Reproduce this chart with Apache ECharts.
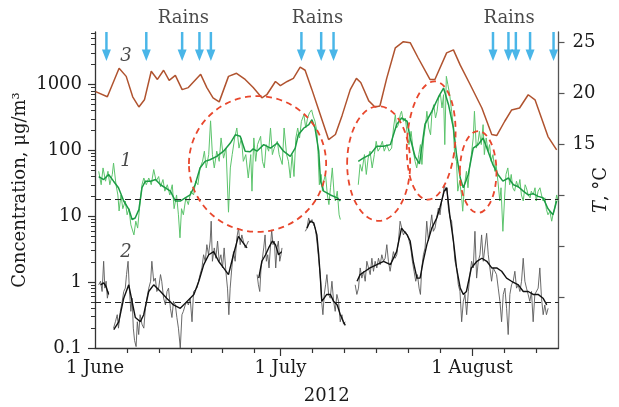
<!DOCTYPE html>
<html>
<head>
<meta charset="utf-8">
<script src="https://cdn.jsdelivr.net/npm/echarts@6/dist/echarts.min.js"></script>
<style>
html,body{margin:0;padding:0;background:#fff}
#chart{width:619px;height:407px}
</style>
</head>
<body>
<div id="chart"></div>
<script>
// x values are days counted from 1 June 2012 (day 0) to 15 August 2012 (day 75).

// Curve 3: air temperature, °C (right axis)
const tempC = [
  [0.1,20.2],[2.0,19.7],[3.9,22.5],[5.05,21.7],[6.1,19.7],[7.1,18.7],[8.0,19.4],[9.1,22.2],
  [10.1,21.4],[11.1,22.3],[12.0,21.3],[13.0,21.8],[14.1,20.4],[15.1,20.6],[17.1,21.9],[18.1,20.6],
  [19.1,19.6],[20.1,19.2],[21.6,21.7],[22.9,22.0],[24.3,21.4],[25.6,20.6],[27.0,19.6],[27.8,19.9],
  [29.2,21.2],[30.0,20.8],[31.1,21.2],[32.1,21.5],[33.2,22.6],[34.0,22.3],[35.1,20.4],[36.2,18.4],
  [37.8,15.5],[38.9,16.0],[40.0,17.9],[41.3,20.4],[42.3,21.5],[43.0,21.1],[44.3,19.3],[45.3,18.7],
  [46.1,18.8],[47.2,21.5],[48.6,24.5],[49.9,25.1],[51.0,25.0],[52.3,23.5],[54.2,21.4],[55.0,21.4],
  [56.9,24.0],[58.0,24.3],[59.1,22.8],[60.7,20.9],[62.6,18.6],[64.2,16.0],[65.0,15.9],[66.3,17.3],
  [67.4,18.4],[68.7,18.6],[70.1,19.9],[71.2,19.4],[73.3,15.8],[74.7,14.5]
];

// Curve 1: concentration, µg/m³ — raw record
const c1Raw = [
  [0.6,48],[1.0,30],[1.3,54],[1.7,34],[2.1,48],[2.4,30],[2.8,43],[3.0,64],[3.4,30],[3.7,21],
  [3.9,12],[4.2,21],[4.5,13],[4.9,17],[5.2,10.5],[5.5,13],[5.8,7.4],[6.3,5.2],[6.6,8.4],[6.9,6.6],
  [7.2,13],[7.6,30],[7.9,38],[8.3,30],[8.7,38],[9.1,30],[9.5,51],[9.9,34],[10.3,40],[10.6,28],
  [11.0,36],[11.3,24],[11.7,30],[12.1,21],[12.5,30],[12.8,13],[13.2,21],[13.5,10.5],[13.75,4.7],[14.0,13],
  [14.3,10.5],[14.7,19],[15.1,15],[15.5,24],[15.95,21],[16.3,34],[16.65,30],[17.0,54],[17.4,68],[17.7,97],
  [18.0,54],[18.4,86],[18.7,280],[19.0,86],[19.3,54],[19.7,97],[20.1,68],[20.4,154],[20.8,76],[21.2,108],
  [21.6,11.5],[21.9,54],[22.2,86],[22.6,154],[22.95,218],[23.3,108],[23.7,154],[24.0,68],[24.4,86],[24.8,38],
  [25.2,86],[25.4,24],[25.7,154],[26.0,68],[26.3,122],[26.8,163],[27.1,68],[27.4,54],[27.7,122],[28.1,97],
  [28.4,218],[28.7,86],[29.0,108],[29.5,137],[29.8,86],[30.3,61],[30.6,218],[31.0,86],[31.3,68],[31.6,38],
  [31.9,86],[32.2,40],[32.5,154],[32.8,218],[33.1,154],[33.4,275],[33.8,347],[34.1,218],[34.4,309],[34.7,370],
  [35.05,410],[35.3,330],[35.6,275],[35.9,194],[36.1,86],[36.3,30],[36.6,43],[36.8,24],[37.0,34],[37.3,43],
  [37.6,21],[37.85,15],[38.1,27],[38.4,54],[38.7,21],[38.9,17],[39.2,24],[39.5,10.5],[39.7,8.9],[41.0,null],
  [42.6,30],[42.9,61],[43.2,48],[43.6,86],[43.9,43],[44.2,76],[44.5,97],[44.85,54],[45.2,86],[45.5,137],
  [45.8,97],[46.1,108],[46.5,137],[46.8,97],[47.2,122],[47.6,97],[48.0,108],[48.3,218],[48.6,347],[48.8,218],
  [49.1,245],[49.4,347],[49.6,391],[49.9,275],[50.2,309],[50.55,172],[50.8,122],[51.15,194],[51.5,97],[51.8,68],
  [52.06,54],[52.4,86],[52.66,122],[52.9,61],[53.2,154],[53.5,245],[53.7,391],[54.0,218],[54.3,172],[54.5,347],
  [54.8,492],[55.1,309],[55.35,391],[55.6,622],[55.9,698],[56.15,439],[56.4,698],[56.6,122],[56.85,1327],[57.1,991],
  [57.4,698],[57.7,391],[57.9,275],[58.2,86],[58.5,68],[58.7,24],[59.0,34],[59.3,21],[59.5,11.9],[59.8,30],
  [60.1,48],[60.35,27],[60.6,54],[60.9,86],[61.2,154],[61.4,391],[61.7,108],[62.0,137],[62.2,194],[62.5,122],
  [62.8,245],[63.0,86],[63.3,154],[63.6,97],[63.85,122],[64.1,68],[64.4,86],[64.7,48],[64.9,61],[65.2,34],
  [65.5,17],[65.7,27],[66.0,5.9],[66.3,21],[66.5,43],[66.8,54],[67.1,30],[67.35,43],[67.6,27],[67.9,24],
  [68.2,34],[68.5,27],[68.75,36],[69.0,21],[69.3,17],[69.6,30],[69.8,27],[70.1,21],[70.4,19],[70.6,24],
  [70.9,21],[71.2,27],[71.4,17],[71.7,24],[72.0,27],[72.25,21],[72.5,17],[72.8,19],[73.05,12.6],[73.3,10.5],
  [73.6,11.9],[73.9,8.4],[74.1,10.5],[74.4,13.3],[74.7,21],[74.95,17]
];

// Curve 1: smoothed record
const c1Mean = [
  [0.6,40],[1.4,36],[2.2,43],[3.0,34],[3.8,27],[4.65,17],[5.5,12.6],[6.0,8.9],[6.5,9.4],[7.1,12.6],
  [7.6,27],[8.15,34],[9.0,34],[9.8,36],[10.6,30],[11.4,27],[12.2,24],[13.0,17],[13.8,17],[14.6,19],
  [15.4,21],[16.2,30],[17.0,54],[17.8,68],[18.6,72],[19.7,81],[20.8,97],[21.9,129],[22.7,172],[23.5,163],
  [24.3,97],[25.1,95],[25.6,105],[26.2,97],[27.3,122],[28.4,108],[29.5,129],[30.5,97],[31.6,81],[32.4,108],
  [32.9,172],[33.8,218],[34.6,245],[35.1,291],[35.6,218],[36.2,97],[36.5,34],[37.0,24],[38.1,21],[39.2,19],
  [39.7,17],[41.0,null],
  [42.6,68],[43.4,76],[44.5,86],[45.6,115],[46.7,115],[47.8,122],[48.8,245],[49.6,309],[50.5,276],[51.0,154],
  [51.8,80],[52.5,62],[53.4,250],[54.5,390],[55.6,650],[56.4,880],[57.2,492],[58.0,218],[58.5,86],[59.1,38],
  [59.6,27],[60.4,43],[61.2,108],[62.0,122],[62.8,154],[63.6,97],[64.4,60],[65.2,43],[66.0,34],[66.9,38],
  [67.7,30],[68.5,28],[69.3,24],[70.1,21],[70.9,22],[71.7,20],[72.5,19],[73.3,13],[74.1,10.5],[74.7,17]
];

// Curve 2: concentration, µg/m³ — raw record
const c2Raw = [
  [0.6,0.91],[0.9,1.03],[1.15,0.72],[1.4,2.07],[1.6,0.81],[1.8,1.03],[2.0,0.57],[2.2,0.72],[2.6,null],
  [3.0,0.20],[3.3,0.25],[3.6,0.32],[3.8,0.20],[4.1,0.36],[4.4,0.51],[4.65,0.72],[4.9,0.81],[5.1,1.3],[5.35,2.07],
  [5.55,0.81],[5.8,0.36],[6.0,0.57],[6.2,0.20],[6.4,0.13],[6.65,0.105],[6.85,0.25],[7.07,0.16],[7.3,0.32],[7.6,0.23],
  [7.9,0.20],[8.15,0.40],[8.4,0.57],[8.7,0.81],[9.0,1.03],[9.2,2.07],[9.5,1.03],[9.76,1.15],[10.0,0.72],[10.3,0.81],
  [10.6,1.3],[10.8,1.03],[11.1,0.57],[11.4,0.45],[11.65,0.72],[11.9,0.81],[12.2,0.40],[12.45,0.29],[12.7,0.51],[13.0,0.45],
  [13.25,0.29],[13.5,0.20],[13.8,0.10],[14.07,0.32],[14.3,0.36],[14.6,0.45],[14.9,0.51],[15.1,0.45],[15.4,0.57],[15.7,0.25],
  [15.95,0.72],[16.2,0.72],[16.5,0.81],[16.76,1.03],[17.0,1.3],[17.3,1.64],[17.57,2.6],[17.84,2.07],[18.1,3.7],[18.37,2.6],
  [18.64,4.2],[18.8,8.4],[19.0,2.07],[19.3,3.3],[19.56,2.3],[19.83,4.2],[20.1,2.07],[20.37,2.6],[20.63,1.64],[20.9,3.3],
  [21.17,1.46],[21.44,0.81],[21.66,0.32],[21.87,0.81],[22.14,1.64],[22.41,2.9],[22.68,2.07],[22.95,4.7],[23.22,6.6],[23.49,3.7],
  [23.76,5.2],[24.0,4.2],[24.3,3.3],[24.56,3.7],[24.83,4.2],[25.5,null],
  [26.23,1.3],[26.44,0.91],[26.66,0.72],[26.87,1.64],[27.09,2.3],[27.3,3.3],[27.52,5.2],[27.73,2.07],[27.95,2.6],[28.16,1.64],
  [28.38,3.3],[28.59,6.2],[28.81,3.7],[29.03,4.2],[29.24,1.64],[29.46,3.3],[29.67,4.2],[29.89,2.07],[30.1,2.6],[30.26,3.3],[32.0,null],
  [34.03,5.9],[34.3,6.6],[34.57,9.4],[34.84,7.9],[35.11,8.9],[35.38,7.4],[35.64,6.6],[35.91,4.2],[36.18,2.3],[36.45,1.3],
  [36.67,0.51],[36.88,0.32],[37.1,0.65],[37.31,0.91],[37.53,1.3],[37.8,0.65],[38.07,0.57],[38.34,1.03],[38.61,0.51],[38.87,0.36],
  [39.14,0.65],[39.41,0.51],[39.68,0.25],[39.95,0.32],[40.22,0.23],[40.49,0.25],[41.3,null],
  [42.1,0.91],[42.37,0.65],[42.64,0.81],[42.91,1.64],[43.18,1.15],[43.45,1.46],[43.72,1.03],[43.99,2.07],[44.26,1.64],[44.53,1.3],
  [44.8,2.3],[45.06,1.46],[45.33,2.07],[45.6,1.64],[45.87,2.3],[46.14,1.84],[46.41,2.6],[46.68,2.07],[46.95,2.3],[47.22,3.7],
  [47.48,2.07],[47.75,1.46],[48.02,2.07],[48.29,2.9],[48.56,2.3],[48.83,2.6],[49.1,4.2],[49.37,8.4],[49.64,6.6],[49.91,5.2],
  [50.18,5.9],[50.56,5.2],[50.83,4.2],[51.09,3.3],[51.36,2.07],[51.63,1.46],[51.9,1.03],[52.17,1.3],[52.44,0.81],[52.66,0.65],
  [52.87,1.64],[53.14,2.6],[53.41,3.3],[53.68,8.4],[53.95,4.2],[54.22,4.2],[54.49,10.5],[54.75,5.9],[55.02,6.6],[55.29,9.4],
  [55.56,13.3],[55.83,10.5],[56.1,17],[56.32,21],[56.53,30],[56.75,24],[56.96,27],[57.18,13.3],[57.45,9.4],[57.71,8.4],
  [57.98,4.2],[58.25,2.07],[58.52,1.64],[58.79,0.91],[59.06,0.72],[59.33,0.25],[59.6,0.51],[59.87,0.65],[60.14,0.32],[60.41,0.72],
  [60.67,1.3],[60.94,2.07],[61.21,1.64],[61.48,5.9],[61.75,1.15],[62.02,2.07],[62.29,2.6],[62.56,5.2],[62.83,2.07],[63.1,2.07],
  [63.37,5.5],[63.64,2.6],[63.9,1.64],[64.17,1.03],[64.44,1.64],[64.71,1.64],[64.98,1.3],[65.25,0.81],[65.52,0.51],[65.79,0.25],
  [66.06,0.65],[66.33,0.81],[66.6,0.40],[66.86,0.16],[67.13,0.65],[67.4,0.91],[67.67,1.03],[67.94,1.46],[68.21,0.81],[68.48,0.91],
  [68.75,0.72],[69.02,1.03],[69.29,2.3],[69.56,1.03],[69.82,0.81],[70.09,0.65],[70.36,0.51],[70.63,0.72],[70.9,0.25],[71.17,0.65],
  [71.44,0.65],[71.71,0.81],[71.98,1.64],[72.25,0.57],[72.52,0.32],[72.78,0.45],[73.05,0.32],[73.32,0.40]
];

// Curve 2: smoothed record
const c2Mean = [
  [0.9,0.91],[1.4,0.97],[1.8,0.85],[2.2,0.65],[2.6,null],
  [3.04,0.19],[3.84,0.25],[4.65,0.57],[5.46,0.91],[6.0,0.51],[6.53,0.29],[7.34,0.25],[7.88,0.32],[8.69,0.72],[9.5,0.91],
  [10.6,0.72],[11.6,0.57],[12.7,0.45],[13.8,0.40],[14.9,0.51],[16.0,0.65],[16.8,1.03],[17.6,1.84],[18.4,2.6],[19.2,2.9],
  [20.0,2.07],[20.8,1.64],[21.6,1.3],[22.4,2.6],[23.2,4.95],[24.0,3.9],[24.6,3.3],[25.5,null],
  [26.5,1.15],[27.0,2.07],[27.6,2.6],[28.1,3.3],[28.7,4.2],[29.2,3.7],[29.7,2.6],[30.2,2.9],[32.0,null],
  [34.3,6.6],[34.8,8.4],[35.4,7.9],[35.9,5.2],[36.2,2.6],[36.5,1.03],[36.7,0.51],[37.0,0.51],[37.5,0.65],[38.1,0.65],
  [38.6,0.51],[39.2,0.45],[39.7,0.32],[40.2,0.25],[40.5,0.22],[41.3,null],
  [42.4,1.03],[42.9,1.3],[43.7,1.46],[44.5,1.64],[45.6,1.84],[46.7,2.07],[47.8,1.84],[48.8,2.9],[49.6,6.6],[50.5,5.2],
  [51.0,4.2],[51.5,2.07],[52.1,1.15],[52.6,1.15],[53.1,2.07],[53.7,3.7],[54.5,6.6],[55.3,9.4],[55.8,13.3],[56.5,24],
  [56.9,27],[57.4,10.5],[58.0,4.2],[58.5,1.64],[59.1,0.81],[59.6,0.65],[60.1,0.72],[60.9,1.64],[61.8,2.07],[62.6,2.3],
  [63.4,2.07],[64.2,1.64],[65.0,1.64],[65.8,1.46],[66.6,1.15],[67.4,1.03],[68.5,0.91],[69.3,0.72],[70.1,0.72],[70.9,0.65],
  [71.7,0.65],[72.5,0.57],[73.1,0.45]
];

// Rain events (days) and the group captions
const rainDays = [1.85, 8.3, 14.1, 16.9, 18.75, 33.4, 36.6, 38.6, 64.4, 66.9, 68.1, 70.4, 74.2];
const rainLabelDays = [14.3, 36.0, 67.0];
const rainLevel = 3760;

// Threshold levels, µg/m³
const limit1 = 18;
const limit2 = 0.5;

// Highlighted episodes: [centre day, centre value, half-width (days), half-height (decades), tilt (deg)]
const episodes = [
  [26.3, 62, 11.1, 1.03, 0],
  [45.9, 63, 5.1, 0.87, 0],
  [54.4, 141, 3.9, 0.90, -4],
  [62.0, 47, 2.96, 0.62, 0]
];

// Curve numbers
const curveTagsConc = [[5.0, 69, '1'], [5.0, 2.87, '2']];
const curveTagsTemp = [[5.0, 23.7, '3']];

// Axis ticks
const monthTicks = [[0, '1 June'], [30, '1 July'], [61, '1 August']];
const dayTicks = [5.17, 10.33, 15.5, 20.67, 25.83, 35.17, 40.33, 45.5, 50.67, 55.83, 66.17, 71.33];
const concTicks = [0.1, 1, 10, 100, 1000];
const concMinorTicks = [0.2,0.3,0.4,0.5,0.6,0.7,0.8,0.9, 2,3,4,5,6,7,8,9, 20,30,40,50,60,70,80,90,
  200,300,400,500,600,700,800,900, 2000,3000,4000,5000,6000];
const tempTicks = [0, 5, 10, 15, 20, 25];
const tempLabels = [15, 20, 25];

const FONT = 'DejaVu Serif';
const INK = '#1a1a1a';
const concMin = 0.1, concMax = 6240;

const chart = echarts.init(document.getElementById('chart'), null, { renderer: 'canvas' });

const monthName = v => {
  const m = monthTicks.find(t => Math.abs(t[0] - v) < 1e-6);
  return m ? m[1] : '';
};

const option = {
  animation: false,
  backgroundColor: '#fff',
  grid: { left: 95, right: 60.5, top: 32, bottom: 59, containLabel: false, outerBoundsMode: 'none' },
  xAxis: [
    {
      type: 'value', min: 0, max: 75, position: 'bottom',
      axisLine: { show: true, onZero: false, lineStyle: { color: '#333', width: 1.3 } },
      axisTick: { show: true, customValues: dayTicks, length: 5, lineStyle: { color: '#333', width: 1.2 } },
      axisLabel: { show: false },
      splitLine: { show: false }
    },
    {
      type: 'value', min: 0, max: 75, position: 'bottom',
      axisLine: { show: false, onZero: false },
      axisTick: { show: true, customValues: [30, 61], length: 8, lineStyle: { color: '#333', width: 1.2 } },
      axisLabel: {
        show: true, customValues: monthTicks.map(t => t[0]), formatter: monthName,
        margin: 11, color: INK, fontFamily: FONT, fontSize: 18
      },
      splitLine: { show: false },
      name: '2012', nameLocation: 'middle', nameGap: 39, nameMoveOverlap: false,
      nameTextStyle: { color: INK, fontFamily: FONT, fontSize: 18 }
    }
  ],
  yAxis: [
    {
      type: 'log', logBase: 10, min: concMin, max: concMax, position: 'left',
      axisLine: { show: true, onZero: false, lineStyle: { color: '#333', width: 1.3 } },
      axisTick: { show: true, customValues: concTicks, length: 7, lineStyle: { color: '#333', width: 1.2 } },
      axisLabel: {
        show: true, customValues: concTicks, margin: 13, color: INK, fontFamily: FONT, fontSize: 18,
        formatter: v => String(v)
      },
      splitLine: { show: false },
      name: 'Concentration, μg/m³', nameLocation: 'middle', nameRotate: 90, nameGap: 66, nameMoveOverlap: false,
      nameTextStyle: { color: INK, fontFamily: FONT, fontSize: 18 }
    },
    {
      type: 'log', logBase: 10, min: concMin, max: concMax, position: 'left',
      axisLine: { show: false, onZero: false },
      axisTick: { show: true, customValues: concMinorTicks, length: 4, lineStyle: { color: '#333', width: 1 } },
      axisLabel: { show: false },
      splitLine: { show: false }
    },
    {
      type: 'value', min: -4.93, max: 26.05, position: 'right',
      axisLine: { show: true, onZero: false, lineStyle: { color: '#555', width: 1.3 } },
      axisTick: { show: true, customValues: tempTicks, length: 6, lineStyle: { color: '#555', width: 1.2 } },
      axisLabel: {
        show: true, customValues: tempLabels, margin: 14, color: INK, fontFamily: FONT, fontSize: 18
      },
      splitLine: { show: false },
      name: '{it|T}, °C', nameLocation: 'middle', nameRotate: 90, nameGap: 34, nameMoveOverlap: false,
      nameTextStyle: {
        color: INK, fontFamily: FONT, fontSize: 18,
        rich: { it: { fontStyle: 'italic', fontFamily: FONT, fontSize: 18, color: INK } }
      }
    }
  ],
  series: [
    {
      name: 'T', type: 'line', xAxisIndex: 0, yAxisIndex: 2, data: tempC,
      symbol: 'none', lineStyle: { color: '#b0532f', width: 1.5 }, z: 2
    },
    {
      name: 'c1 raw', type: 'line', xAxisIndex: 0, yAxisIndex: 0, data: c1Raw,
      symbol: 'none', connectNulls: false, lineStyle: { color: '#5cc46c', width: 1 }, z: 3
    },
    {
      name: 'c1 mean', type: 'line', xAxisIndex: 0, yAxisIndex: 0, data: c1Mean,
      symbol: 'none', connectNulls: false, lineStyle: { color: '#1d9c45', width: 1.5 }, z: 4,
      markLine: {
        silent: true, symbol: 'none', label: { show: false },
        lineStyle: { color: '#222', type: [6, 4], width: 1.2 },
        data: [{ yAxis: limit1 }]
      }
    },
    {
      name: 'c2 raw', type: 'line', xAxisIndex: 0, yAxisIndex: 0, data: c2Raw,
      symbol: 'none', connectNulls: false, lineStyle: { color: '#5a5a5a', width: 0.9 }, z: 3
    },
    {
      name: 'c2 mean', type: 'line', xAxisIndex: 0, yAxisIndex: 0, data: c2Mean,
      symbol: 'none', connectNulls: false, lineStyle: { color: '#111', width: 1.4 }, z: 4,
      markLine: {
        silent: true, symbol: 'none', label: { show: false },
        lineStyle: { color: '#222', type: [6, 4], width: 1.2 },
        data: [{ yAxis: limit2 }]
      }
    },
    {
      name: 'episodes', type: 'custom', xAxisIndex: 0, yAxisIndex: 0, data: episodes,
      encode: { x: 0, y: 1 }, z: 5, silent: true,
      renderItem: (params, api) => {
        const cx = api.value(0), cy = api.value(1), hw = api.value(2), hh = api.value(3), tilt = api.value(4);
        const c = api.coord([cx, cy]);
        const e = api.coord([cx + hw, cy]);
        const t = api.coord([cx, cy * Math.pow(10, hh)]);
        return {
          type: 'ellipse', x: c[0], y: c[1], rotation: tilt * Math.PI / 180,
          shape: { cx: 0, cy: 0, rx: e[0] - c[0], ry: c[1] - t[1] },
          style: { fill: 'none', stroke: '#e8472d', lineWidth: 1.8, lineDash: [6, 4.5] }
        };
      }
    },
    {
      name: 'rain', type: 'scatter', xAxisIndex: 0, yAxisIndex: 0,
      data: rainDays.map(d => [d, rainLevel]), clip: false, silent: true,
      symbol: 'path://M2.9,0 H5.1 V17 H8 L4,28 L0,17 H2.9 Z', symbolSize: [9, 29],
      itemStyle: { color: '#1da4e2' }, z: 6
    },
    {
      name: 'rain captions', type: 'scatter', xAxisIndex: 0, yAxisIndex: 0,
      data: rainLabelDays.map(d => [d, rainLevel]), clip: false, silent: true,
      symbolSize: 1, itemStyle: { color: 'rgba(0,0,0,0)' },
      label: {
        show: true, position: 'inside', offset: [0, -28.5], formatter: 'Rains',
        color: INK, fontFamily: FONT, fontSize: 18
      }, z: 6
    },
    {
      name: 'tags conc', type: 'scatter', xAxisIndex: 0, yAxisIndex: 0,
      data: curveTagsConc, silent: true, symbolSize: 1, itemStyle: { color: 'rgba(0,0,0,0)' },
      label: {
        show: true, position: 'inside', formatter: p => p.data[2],
        color: INK, fontFamily: FONT, fontSize: 18, fontStyle: 'italic'
      }, z: 6
    },
    {
      name: 'tags temp', type: 'scatter', xAxisIndex: 0, yAxisIndex: 2,
      data: curveTagsTemp, silent: true, symbolSize: 1, itemStyle: { color: 'rgba(0,0,0,0)' },
      label: {
        show: true, position: 'inside', formatter: p => p.data[2],
        color: INK, fontFamily: FONT, fontSize: 18, fontStyle: 'italic'
      }, z: 6
    }
  ]
};

chart.setOption(option);
</script>
</body>
</html>
